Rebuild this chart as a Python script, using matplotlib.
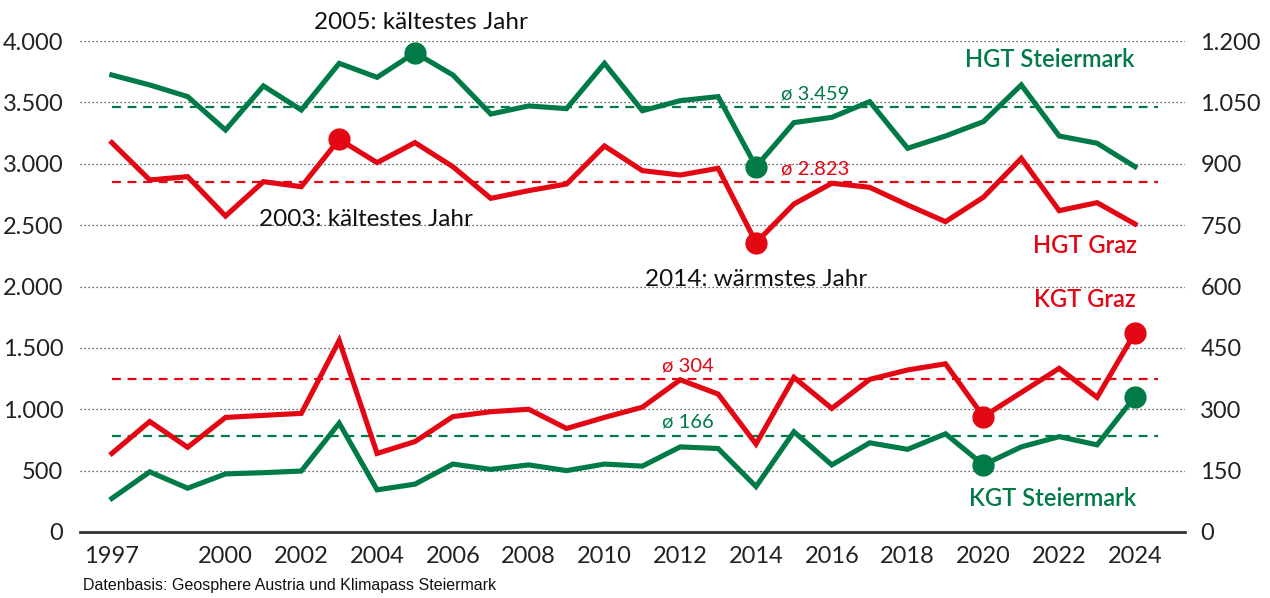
import matplotlib
matplotlib.use("Agg")
import matplotlib.pyplot as plt
from matplotlib.ticker import FuncFormatter

plt.rcParams['font.family'] = ['Lato', 'DejaVu Sans']

years = list(range(1997, 2025))

hgt_steiermark = [3723, 3642, 3547, 3275, 3634, 3438, 3818, 3704, 3905, 3723,
                  3405, 3471, 3449, 3818, 3432, 3514, 3547, 2976, 3335, 3378,
                  3506, 3126, 3226, 3343, 3642, 3226, 3167, 2976]
hgt_graz = [3172, 2868, 2895, 2574, 2854, 2813, 3199, 3009, 3172, 2976,
            2718, 2781, 2835, 3145, 2944, 2908, 2963, 2357, 2672, 2841,
            2808, 2664, 2528, 2727, 3044, 2618, 2683, 2509]
kgt_graz = [192, 270, 207, 280, 285, 290, 468, 192, 221, 282,
            294, 300, 253, 280, 305, 372, 337, 215, 378, 302,
            373, 396, 411, 282, 341, 400, 329, 487]
kgt_steiermark = [82, 147, 107, 142, 145, 149, 266, 103, 117, 166,
                  153, 164, 150, 166, 161, 208, 204, 111, 245, 164,
                  218, 202, 240, 164, 208, 233, 213, 331]

avg_hgt_steiermark = 3460
avg_hgt_graz = 2854
avg_kgt_graz = 374
avg_kgt_steiermark = 235
avg_labels = {"hgt_st": "ø 3.459", "hgt_gr": "ø 2.823", "kgt_gr": "ø 304", "kgt_st": "ø 166"}

marked_hgt_st = [2005, 2014]
marked_hgt_gr = [2003, 2014]
marked_kgt_gr = [2020, 2024]
marked_kgt_st = [2020, 2024]

xtick_years = [1997, 2000, 2002, 2004, 2006, 2008, 2010, 2012, 2014, 2016, 2018, 2020, 2022, 2024]
left_ticks = [0, 500, 1000, 1500, 2000, 2500, 3000, 3500, 4000]
right_ticks = [0, 150, 300, 450, 600, 750, 900, 1050, 1200]

GREEN = '#007A46'
RED = '#E30613'
DARK = '#222222'


def de_fmt(v, pos=None):
    return f"{int(round(v)):,}".replace(",", ".")


fig = plt.figure(figsize=(12.7, 5.98), dpi=100)
ax = fig.add_axes([80 / 1270, 1 - 532 / 598, (1185 - 80) / 1270, (532 - 41) / 598])
ax2 = ax.twinx()

ax.set_xlim(1996.16, 2025.32)
ax.set_ylim(0, 4000)
ax2.set_ylim(0, 1200)

# grid
for t in left_ticks[1:]:
    ax.axhline(t, color='#333333', lw=0.9, ls=(0, (1, 2.2)), zorder=1)

for a in (ax, ax2):
    for s in ('top', 'left', 'right'):
        a.spines[s].set_visible(False)
    a.spines['bottom'].set_color('#333333')
    a.spines['bottom'].set_linewidth(2)
ax2.spines['bottom'].set_visible(False)

ax.set_xticks(xtick_years)
ax.set_xticklabels([str(y) for y in xtick_years])
ax.set_yticks(left_ticks)
ax.yaxis.set_major_formatter(FuncFormatter(de_fmt))
ax2.set_yticks(right_ticks)
ax2.yaxis.set_major_formatter(FuncFormatter(de_fmt))
ax.tick_params(axis='x', length=0, pad=10, labelsize=17, colors=DARK)
ax.tick_params(axis='y', length=0, pad=12, labelsize=17, colors=DARK)
ax2.tick_params(axis='y', length=0, pad=11, labelsize=17, colors=DARK)

lw = 3.7
dash = dict(lw=1.6, ls=(0, (4, 3)))
x_end = 2024.6

# dashed averages
ax.plot([1997, x_end], [avg_hgt_steiermark] * 2, color=GREEN, zorder=2, **dash)
ax.plot([1997, x_end], [avg_hgt_graz] * 2, color=RED, zorder=2, **dash)
ax2.plot([1997, x_end], [avg_kgt_graz] * 2, color=RED, zorder=2, **dash)
ax2.plot([1997, x_end], [avg_kgt_steiermark] * 2, color=GREEN, zorder=2, **dash)

# lines
ax.plot(years, hgt_steiermark, color=GREEN, lw=lw, zorder=3, solid_joinstyle='miter')
ax.plot(years, hgt_graz, color=RED, lw=lw, zorder=3, solid_joinstyle='miter')
ax2.plot(years, kgt_graz, color=RED, lw=lw, zorder=3, solid_joinstyle='miter')
ax2.plot(years, kgt_steiermark, color=GREEN, lw=lw, zorder=3, solid_joinstyle='miter')

ms = 15
ax.plot(marked_hgt_st, [hgt_steiermark[years.index(y)] for y in marked_hgt_st], 'o', color=GREEN, ms=ms, zorder=4)
ax.plot(marked_hgt_gr, [hgt_graz[years.index(y)] for y in marked_hgt_gr], 'o', color=RED, ms=ms, zorder=4)
ax2.plot(marked_kgt_gr, [kgt_graz[years.index(y)] for y in marked_kgt_gr], 'o', color=RED, ms=ms, zorder=4)
ax2.plot(marked_kgt_st, [kgt_steiermark[years.index(y)] for y in marked_kgt_st], 'o', color=GREEN, ms=ms, zorder=4)

# average labels
ax.text(2015.55, avg_hgt_steiermark + 40, avg_labels["hgt_st"], color=GREEN, fontsize=14.5, ha='center', va='bottom')
ax.text(2015.55, avg_hgt_graz + 30, avg_labels["hgt_gr"], color=RED, fontsize=14.5, ha='center', va='bottom')
ax2.text(2012.2, avg_kgt_graz + 12, avg_labels["kgt_gr"], color=RED, fontsize=14.5, ha='center', va='bottom')
ax2.text(2012.2, avg_kgt_steiermark + 12, avg_labels["kgt_st"], color=GREEN, fontsize=14.5, ha='center', va='bottom')

# series labels
lab = dict(fontsize=17, fontweight='semibold', ha='center', va='center')
ax.text(2021.75, 3850, "HGT Steiermark", color=GREEN, **lab)
ax.text(2022.67, 2330, "HGT Graz", color=RED, **lab)
ax2.text(2022.67, 568, "KGT Graz", color=RED, **lab)
ax2.text(2021.83, 81, "KGT Steiermark", color=GREEN, **lab)

# annotations
ann = dict(color='#111111', fontsize=17.5, ha='center', va='baseline', zorder=0)
ax.text(2005.15, 4100, "2005: kältestes Jahr", **ann)
ax.text(2003.7, 2490, "2003: kältestes Jahr", **ann)
ax.text(2014.0, 2000, "2014: wärmstes Jahr", **ann)

fig.text(83 / 1270, 1 - 590 / 598, "Datenbasis: Geosphere Austria und Klimapass Steiermark",
         fontsize=11.5, family=['Liberation Sans', 'DejaVu Sans'], color='#111111', ha='left', va='baseline')

fig.savefig("out.png", dpi=100)
